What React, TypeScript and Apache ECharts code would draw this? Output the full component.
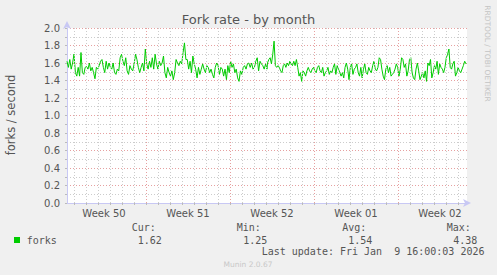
import React, { useEffect, useRef } from "react";
import * as echarts from "echarts";

// forks/second, first half of the month (Week 50 – mid Week 52)
const forksA = [
  1.62, 1.55, 1.64, 1.53, 1.6, 1.7, 1.49, 1.45, 1.55, 1.45,
  1.72, 1.49, 1.47, 1.55, 1.56, 1.53, 1.6, 1.51, 1.55, 1.49,
  1.42, 1.55, 1.53, 1.57, 1.62, 1.64, 1.55, 1.49, 1.62, 1.53,
  1.6, 1.55, 1.53, 1.6, 1.49, 1.47, 1.53, 1.51, 1.66, 1.7,
  1.62, 1.57, 1.66, 1.51, 1.47, 1.57, 1.53, 1.51, 1.59, 1.7,
  1.64, 1.55, 1.49, 1.55, 1.6, 1.51, 1.76, 1.59, 1.53, 1.62,
  1.55, 1.66, 1.53, 1.7, 1.59, 1.53, 1.62, 1.57, 1.6, 1.68,
  1.49, 1.43, 1.55, 1.49, 1.45, 1.51, 1.41, 1.49, 1.64, 1.6,
  1.57, 1.62, 1.59, 1.72, 1.83, 1.64, 1.64, 1.53, 1.62, 1.49,
  1.68, 1.59, 1.53, 1.43, 1.55, 1.47, 1.53, 1.59, 1.53, 1.49,
  1.57, 1.55, 1.49, 1.53, 1.47, 1.43, 1.55, 1.6, 1.57, 1.47,
  1.55, 1.53, 1.45, 1.53, 1.41, 1.57, 1.49, 1.62, 1.55, 1.59,
  1.49, 1.53, 1.43, 1.39, 1.51, 1.47, 1.55, 1.57, 1.53, 1.59,
  1.6, 1.55, 1.6, 1.53, 1.55, 1.62, 1.66, 1.51, 1.62, 1.59,
  1.57, 1.53, 1.59, 1.53,
];

// forks/second, second half of the month (mid Week 52 – Week 02)
const forksB = [
  1.6, 1.64, 1.66, 1.59, 1.7, 1.85, 1.57, 1.55, 1.57,
  1.55, 1.51, 1.49, 1.57, 1.59, 1.55, 1.6, 1.57, 1.62, 1.59,
  1.57, 1.62, 1.57, 1.64, 1.55, 1.45, 1.49, 1.39, 1.51, 1.49,
  1.45, 1.51, 1.55, 1.51, 1.49, 1.53, 1.55, 1.51, 1.49, 1.55,
  1.57, 1.51, 1.49, 1.55, 1.45, 1.49, 1.51, 1.55, 1.47, 1.51,
  1.49, 1.55, 1.59, 1.47, 1.57, 1.53, 1.49, 1.45, 1.49, 1.43,
  1.55, 1.6, 1.53, 1.41, 1.55, 1.59, 1.47, 1.53, 1.55, 1.59,
  1.49, 1.45, 1.55, 1.43, 1.53, 1.59, 1.49, 1.47, 1.55, 1.51,
  1.49, 1.57, 1.62, 1.53, 1.51, 1.55, 1.66, 1.64, 1.53, 1.45,
  1.41, 1.53, 1.57, 1.49, 1.55, 1.45, 1.47, 1.49, 1.53, 1.59,
  1.55, 1.45, 1.53, 1.66, 1.64, 1.55, 1.59, 1.45, 1.51, 1.64,
  1.66, 1.49, 1.43, 1.41, 1.53, 1.6, 1.51, 1.41, 1.45, 1.49,
  1.43, 1.51, 1.39, 1.6, 1.57, 1.64, 1.43, 1.49, 1.57, 1.53,
  1.62, 1.47, 1.59, 1.55, 1.53, 1.49, 1.55, 1.66, 1.7, 1.76,
  1.55, 1.53, 1.59, 1.62, 1.45, 1.49, 1.55, 1.51, 1.49, 1.53,
  1.57, 1.62, 1.59,
];

const weekLabels = ["Week 50", "Week 51", "Week 52", "Week 01", "Week 02"];
const weekLabelHours = [74, 242, 410, 578, 746];
const weekStartHours = [158, 326, 494, 662];
const yTickLabels = ["0.0", "0.2", "0.4", "0.6", "0.8", "1.0", "1.2", "1.4", "1.6", "1.8", "2.0"];
const statNames = ["Cur:", "Min:", "Avg:", "Max:"];
const statValues = ["1.62", "1.25", "1.54", "4.38"];
const seriesName = "forks";

const TOTAL_HOURS = 800;

export default function App() {
  const ref = useRef<HTMLDivElement>(null);

  useEffect(() => {
    if (!ref.current) return;
    const chart = echarts.init(ref.current, null, { renderer: "svg" });

    const data: [number, number][] = [
      ...forksA.map((v, i) => [(i * 400) / (forksA.length - 1), v] as [number, number]),
      ...forksB.map((v, i) => [401 + (i * 397) / (forksB.length - 1), v] as [number, number]),
    ];

    const dayHours: number[] = [];
    for (let h = 14; h < TOTAL_HOURS; h += 24) dayHours.push(h);
    const minorDays = dayHours.filter((h) => !weekStartHours.includes(h));

    const statX = [131.7, 236.7, 342.3, 446.7];
    const valX = [137.7, 243.3, 348.3, 453.3];
    const mono = "DejaVu Sans Mono";
    const sans = "DejaVu Sans";

    const graphic: any[] = [
      {
        type: "text",
        x: 248.5,
        y: 19,
        style: { text: "Fork rate - by month", font: `13px '${sans}'`, fill: "#555", align: "center", verticalAlign: "middle" },
      },
      {
        type: "text",
        x: 10.5,
        y: 115,
        rotation: Math.PI / 2,
        style: { text: "forks / second", font: `11.5px '${sans}'`, fill: "#555", align: "center", verticalAlign: "middle" },
      },
      {
        type: "text",
        x: 487,
        y: 53.5,
        rotation: -Math.PI / 2,
        style: { text: "RRDTOOL / TOBI OETIKER", font: `7.5px '${sans}'`, fill: "#c4c4c4", align: "center", verticalAlign: "middle" },
      },
      { type: "rect", shape: { x: 14, y: 237, width: 6, height: 6 }, style: { fill: "#00cc00" } },
      {
        type: "text",
        x: 26.7,
        y: 240,
        style: { text: seriesName, font: `10px '${mono}'`, fill: "#555", align: "left", verticalAlign: "middle" },
      },
      ...statNames.map((s, i) => ({
        type: "text",
        x: statX[i],
        y: 227.7,
        style: { text: s, font: `10px '${mono}'`, fill: "#555", align: "left", verticalAlign: "middle" },
      })),
      ...statValues.map((s, i) => ({
        type: "text",
        x: valX[i],
        y: 240,
        style: { text: s, font: `10px '${mono}'`, fill: "#555", align: "left", verticalAlign: "middle" },
      })),
      {
        type: "text",
        x: 261.7,
        y: 251.7,
        style: { text: "Last update: Fri Jan  9 16:00:03 2026", font: `10px '${mono}'`, fill: "#555", align: "left", verticalAlign: "middle" },
      },
      {
        type: "text",
        x: 248,
        y: 264,
        style: { text: "Munin 2.0.67", font: `7.5px '${sans}'`, fill: "#c8c8c8", align: "center", verticalAlign: "middle" },
      },
    ];

    chart.setOption({
      animation: false,
      backgroundColor: "#f0f0f0",
      grid: { left: 67, top: 28, width: 400, height: 175, show: true, backgroundColor: "#ffffff", borderWidth: 0 },
      xAxis: {
        type: "value",
        min: 0,
        max: TOTAL_HOURS,
        axisLine: { show: true, lineStyle: { color: "#c8c8f4", width: 1 }, symbol: ["none", "arrow"], symbolSize: [6, 8], symbolOffset: [0, 4] },
        axisTick: { show: true, customValues: dayHours, length: 2, inside: false, lineStyle: { color: "#bbbbbb" } },
        axisLabel: {
          customValues: weekLabelHours,
          formatter: (v: number) => weekLabels[weekLabelHours.indexOf(Math.round(v))] ?? "",
          color: "#555",
          fontSize: 10,
          fontFamily: sans,
          margin: 5,
        },
        splitLine: { show: false },
      },
      yAxis: {
        type: "value",
        min: 0,
        max: 2,
        interval: 0.2,
        axisLine: { show: true, lineStyle: { color: "#c8c8f4", width: 1 }, symbol: ["none", "arrow"], symbolSize: [6, 8], symbolOffset: [0, 7] },
        axisTick: { show: true, length: 2, lineStyle: { color: "#bbbbbb" } },
        minorTick: { show: true, splitNumber: 2, length: 2, lineStyle: { color: "#bbbbbb" } },
        axisLabel: {
          formatter: (v: number) => yTickLabels[Math.round(v / 0.2)] ?? "",
          color: "#555",
          fontSize: 10,
          fontFamily: sans,
          margin: 7,
        },
        splitLine: { show: true, lineStyle: { color: "#e6a0a0", type: [1, 2], width: 1 } },
        minorSplitLine: { show: true, lineStyle: { color: "#cccccc", type: [1, 2], width: 1 } },
      },
      graphic,
      series: [
        {
          type: "line",
          data: [],
          silent: true,
          z: 1,
          markLine: {
            silent: true,
            symbol: ["none", "none"],
            label: { show: false },
            animation: false,
            data: [
              ...minorDays.map((h) => ({ xAxis: h, lineStyle: { color: "#cccccc", type: [1, 2], width: 1 } })),
              ...weekStartHours.map((h) => ({ xAxis: h, lineStyle: { color: "#e6a0a0", type: [1, 2], width: 1 } })),
            ],
          },
        },
        {
          name: seriesName,
          type: "line",
          data,
          z: 3,
          showSymbol: false,
          symbol: "none",
          lineStyle: { color: "#00cc00", width: 1 },
        },
      ],
    });

    return () => chart.dispose();
  }, []);

  return <div ref={ref} style={{ position: "fixed", left: 0, top: 0, width: 497, height: 275 }} />;
}
